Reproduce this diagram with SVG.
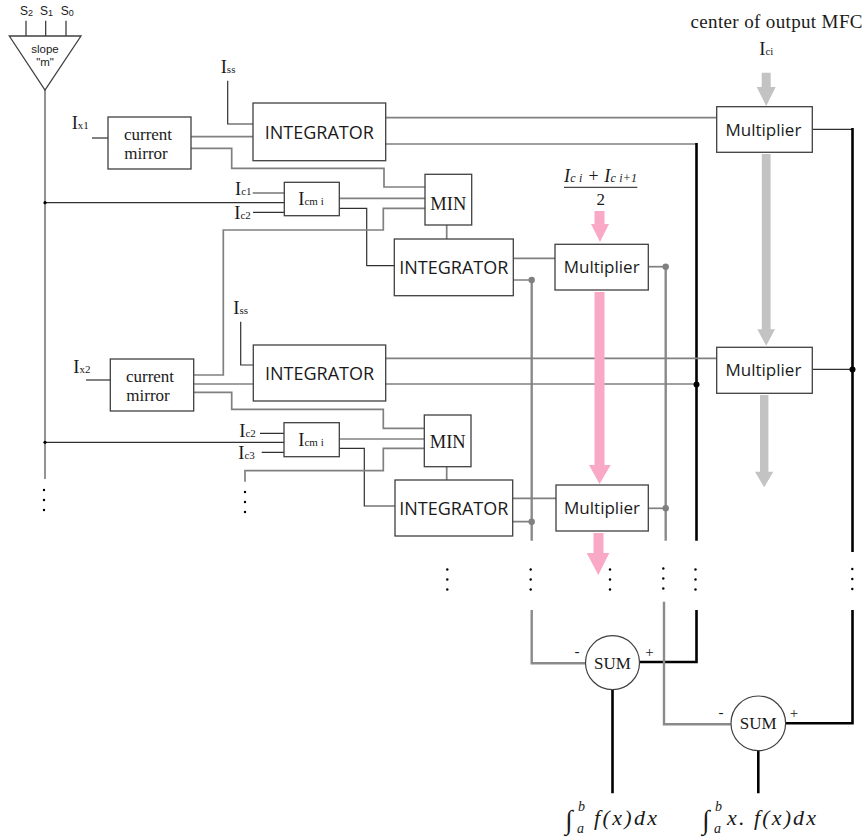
<svg xmlns="http://www.w3.org/2000/svg" width="864" height="837" viewBox="0 0 864 837">
<style>
.box{fill:#fff;stroke:#404040;stroke-width:1.3}
.g{fill:none;stroke:#808080;stroke-width:1.7}
.gv{fill:none;stroke:#8a8a8a;stroke-width:2.4}
.d{fill:none;stroke:#303030;stroke-width:1.2}
.k{fill:none;stroke:#000;stroke-width:2.6}
.sans{font-family:"Open Sans","Liberation Sans",sans-serif;fill:#1a1a1a}
.ser{font-family:"Liberation Serif",serif;fill:#1a1a1a}
.lab{font-family:"Liberation Serif",serif;font-size:18.5px;fill:#1a1a1a}
.sub{font-size:11px}
.it{font-family:"Liberation Serif",serif;font-style:italic;fill:#1a1a1a}
.pink{fill:#f9a8c5}
.grey{fill:#c3c3c3}
.dot{fill:#000}
.gdot{fill:#808080}
</style>
<defs>
<g id="vdots"><circle cx="0" cy="0" r="1.2" class="dot"/><circle cx="0" cy="10" r="1.2" class="dot"/><circle cx="0" cy="20" r="1.2" class="dot"/></g>
</defs>

<g id="connectors">
<path class="d" d="M26,20.7V36M45.7,20.7V36M66,20.7V36"/>
<path class="g" d="M45,90V479"/>
<path class="d" d="M45,202.7H284.3M45,442.3H284"/>
<circle cx="45" cy="202.7" r="1.6" class="dot"/>
<circle cx="45" cy="442.3" r="1.6" class="dot"/>
<path class="d" d="M92,138H108"/>
<path class="g" d="M191,136.7H253"/>
<path class="g" d="M191,148.3H231.7V168.3H384V187H425"/>
<path class="d" d="M227.7,80.7V124H253"/>
<path class="g" d="M385.7,117.7H716.7"/>
<path class="g" d="M385.7,144H696.5"/>
<path class="k" d="M696.5,143V540.7"/>
<path class="d" d="M812.3,129.3H852.5"/>
<path class="k" d="M852.5,128V552"/>
<path class="d" d="M252.7,193H284.3M253,212.3H284.3"/>
<path class="g" d="M339.3,198.3H425"/>
<path class="d" d="M339.3,208.3H366.7V265.7H394.3"/>
<path class="g" d="M425,208.3H383.3V230H223.3V375H193.7"/>
<path class="g" d="M446.7,225V239"/>
<path class="g" d="M513.3,258.3H555M513.3,280H531.7"/>
<path class="gv" d="M531.7,280V540.7"/>
<path class="g" d="M648.3,266.7H665.7"/>
<path class="gv" d="M665.7,266.7V540.7"/>
<path class="d" d="M86,380H110.3"/>
<path class="g" d="M193.7,384H253.3"/>
<path class="g" d="M193.7,392.3H231.7V409.3H383.3V428.3H424.3"/>
<path class="d" d="M240.7,321.7V365H253.3"/>
<path class="g" d="M385.7,358.3H716.7"/>
<path class="g" d="M385.7,384H696.5"/>
<path class="d" d="M812.3,369.3H852.5"/>
<path class="d" d="M260,433.3H284M261.7,452.3H284"/>
<path class="g" d="M339.3,439H424.3"/>
<path class="d" d="M339.3,448.3H364.3V506H395"/>
<path class="g" d="M424.3,448.3H383.3V470.7H245V481.7"/>
<path class="g" d="M446.7,466.7V480"/>
<path class="g" d="M512.7,498.3H556M512.7,521.7H531.7"/>
<path class="g" d="M648.3,508.3H665.7"/>
<circle cx="531.7" cy="280" r="3.2" class="gdot"/>
<circle cx="665.7" cy="266.7" r="3.2" class="gdot"/>
<circle cx="531.7" cy="521.7" r="3.2" class="gdot"/>
<circle cx="665.7" cy="508.3" r="3.2" class="gdot"/>
<circle cx="696.5" cy="384.5" r="3" class="dot"/>
<circle cx="852.5" cy="369.5" r="3" class="dot"/>
<path class="gv" d="M531.7,610V663.3H585.5"/>
<path class="k" d="M696.5,610V662H639.5"/>
<path class="gv" d="M664,601.7V724.3H730.8"/>
<path class="k" d="M852.5,610V723.3H785.8"/>
<path class="k" d="M612.5,689.7V793.3M758.3,750.8V793.3"/>
<use href="#vdots" x="44" y="490"/>
<use href="#vdots" x="245" y="492"/>
<use href="#vdots" x="447.3" y="569.5"/>
<use href="#vdots" x="530.7" y="569.5"/>
<use href="#vdots" x="610" y="569.5"/>
<use href="#vdots" x="663.3" y="568.5"/>
<use href="#vdots" x="695.5" y="569.5"/>
<use href="#vdots" x="852.3" y="569"/>
<path class="pink" d="M594.5,211H604.5V224H609L600,242L591,224H594.5Z"/>
<path class="pink" d="M594.5,292H604.5V465H610.7L599.5,484L589,465H594.5Z"/>
<path class="pink" d="M593.5,533H603.5V553H609.3L598.3,575L586.7,553H593.5Z"/>
<path class="grey" d="M761.7,72.7H770.7V87H775.7L766.2,106L756.7,87H761.7Z"/>
<path class="grey" d="M761.8,154H770.6V329.3H775L766.2,345.7L757.3,329.3H761.8Z"/>
<path class="grey" d="M760,395H768.4V471.7H773.3L764.2,487.3L755,471.7H760Z"/>
</g>

<g id="slope">
<path d="M9.3,36H81L45,90Z" fill="#fff" stroke="#404040" stroke-width="1.3"/>
<text x="45" y="53" text-anchor="middle" font-family="Liberation Sans,sans-serif" font-size="11.5" fill="#1a1a1a">slope</text>
<text x="45" y="66" text-anchor="middle" font-family="Liberation Sans,sans-serif" font-size="11.5" fill="#1a1a1a">"m"</text>
<text x="20" y="15" font-family="Liberation Sans,sans-serif" font-size="12" fill="#1a1a1a">S<tspan font-size="9" dy="1">2</tspan></text>
<text x="40" y="15" font-family="Liberation Sans,sans-serif" font-size="12" fill="#1a1a1a">S<tspan font-size="9" dy="1">1</tspan></text>
<text x="60.7" y="15" font-family="Liberation Sans,sans-serif" font-size="12" fill="#1a1a1a">S<tspan font-size="9" dy="1">0</tspan></text>
</g>

<g id="cm1">
<rect class="box" x="108" y="117" width="83" height="52"/>
<text class="ser" x="148" y="140" text-anchor="middle" font-size="17">current</text>
<text class="ser" x="146" y="159" text-anchor="middle" font-size="17">mirror</text>
</g>
<g id="int1">
<rect class="box" x="253" y="103" width="132.7" height="57.7"/>
<text class="sans" x="319.3" y="138.5" text-anchor="middle" font-size="18">INTEGRATOR</text>
</g>
<g id="min1">
<rect class="box" x="425" y="174.3" width="46.7" height="50.7"/>
<text class="ser" x="448.3" y="210" text-anchor="middle" font-size="18.5">MIN</text>
</g>
<g id="icm1">
<rect class="box" x="284.3" y="182.3" width="55" height="33.4"/>
<text class="lab" x="298.3" y="204.5">I<tspan class="sub">cm i</tspan></text>
</g>
<g id="int2">
<rect class="box" x="394.3" y="239" width="119" height="56.7"/>
<text class="sans" x="453.8" y="273.5" text-anchor="middle" font-size="18">INTEGRATOR</text>
</g>
<g id="mul2">
<rect class="box" x="555" y="244.3" width="93.3" height="45.7"/>
<text class="sans" x="601.7" y="273" text-anchor="middle" font-size="17">Multiplier</text>
</g>
<g id="multr">
<rect class="box" x="716.7" y="106.7" width="95.6" height="45.6"/>
<text class="sans" x="725.5" y="135.5" font-size="17">Multiplier</text>
</g>
<g id="mulmr">
<rect class="box" x="716.7" y="347.3" width="95.6" height="46"/>
<text class="sans" x="725.5" y="376" font-size="17">Multiplier</text>
</g>
<g id="cm2">
<rect class="box" x="110.3" y="359" width="83.4" height="52"/>
<text class="ser" x="150" y="382" text-anchor="middle" font-size="17">current</text>
<text class="ser" x="148" y="401" text-anchor="middle" font-size="17">mirror</text>
</g>
<g id="int3">
<rect class="box" x="253.3" y="345" width="132.4" height="56"/>
<text class="sans" x="319.5" y="380" text-anchor="middle" font-size="18">INTEGRATOR</text>
</g>
<g id="min2">
<rect class="box" x="424.3" y="415" width="46.7" height="51.7"/>
<text class="ser" x="447.7" y="448" text-anchor="middle" font-size="18.5">MIN</text>
</g>
<g id="icm2">
<rect class="box" x="284" y="422.7" width="55.3" height="34"/>
<text class="lab" x="298.3" y="445.5">I<tspan class="sub">cm i</tspan></text>
</g>
<g id="int4">
<rect class="box" x="395" y="480" width="117.7" height="56"/>
<text class="sans" x="453.8" y="514.5" text-anchor="middle" font-size="18">INTEGRATOR</text>
</g>
<g id="mul4">
<rect class="box" x="556" y="485" width="92.3" height="46"/>
<text class="sans" x="602" y="514" text-anchor="middle" font-size="17">Multiplier</text>
</g>
<g id="sum1">
<circle cx="612.5" cy="662.7" r="27" fill="#fff" stroke="#404040" stroke-width="1.2"/>
<text class="ser" x="612.5" y="668.5" text-anchor="middle" font-size="17">SUM</text>
<text class="ser" x="577" y="656" text-anchor="middle" font-size="15">-</text>
<text class="ser" x="649.5" y="657" text-anchor="middle" font-size="15">+</text>
</g>
<g id="sum2">
<circle cx="758.3" cy="723.3" r="27.3" fill="#fff" stroke="#404040" stroke-width="1.2"/>
<text class="ser" x="758.3" y="729" text-anchor="middle" font-size="17">SUM</text>
<text class="ser" x="721" y="717" text-anchor="middle" font-size="15">-</text>
<text class="ser" x="794" y="717.5" text-anchor="middle" font-size="15">+</text>
</g>

<g id="labels">
<text class="lab" x="71.7" y="129">I<tspan class="sub">x1</tspan></text>
<text class="lab" x="220.7" y="73">I<tspan class="sub">ss</tspan></text>
<text class="lab" x="235" y="195">I<tspan class="sub">c1</tspan></text>
<text class="lab" x="234.3" y="218.5">I<tspan class="sub">c2</tspan></text>
<text class="lab" x="233.3" y="314">I<tspan class="sub">ss</tspan></text>
<text class="lab" x="73.3" y="373">I<tspan class="sub">x2</tspan></text>
<text class="lab" x="239.3" y="436.5">I<tspan class="sub">c2</tspan></text>
<text class="lab" x="238.3" y="458.5">I<tspan class="sub">c3</tspan></text>
<text class="ser" x="776.5" y="27.5" text-anchor="middle" font-size="19" textLength="172" lengthAdjust="spacing">center of output MFC</text>
<text class="lab" x="759.3" y="54.5">I<tspan class="sub">ci</tspan></text>
<text class="it" x="600.5" y="182" text-anchor="middle" font-size="18" textLength="73" lengthAdjust="spacing">I<tspan font-size="12">c i</tspan> + I<tspan font-size="12">c i+1</tspan></text>
<path d="M564,187.3H637.3" stroke="#1a1a1a" stroke-width="1"/>
<text class="ser" x="600.7" y="205" text-anchor="middle" font-size="17">2</text>
<text class="it" x="565" y="829" font-size="27">∫</text>
<text class="it" x="578" y="811" font-size="14">b</text>
<text class="it" x="577" y="833" font-size="14">a</text>
<text class="it" x="594" y="825" font-size="22" textLength="63" lengthAdjust="spacing">f(x)dx</text>
<text class="it" x="702" y="829" font-size="27">∫</text>
<text class="it" x="715" y="811" font-size="14">b</text>
<text class="it" x="714" y="833" font-size="14">a</text>
<text class="it" x="727" y="825" font-size="22" textLength="89" lengthAdjust="spacing">x. f(x)dx</text>
</g>
</svg>
